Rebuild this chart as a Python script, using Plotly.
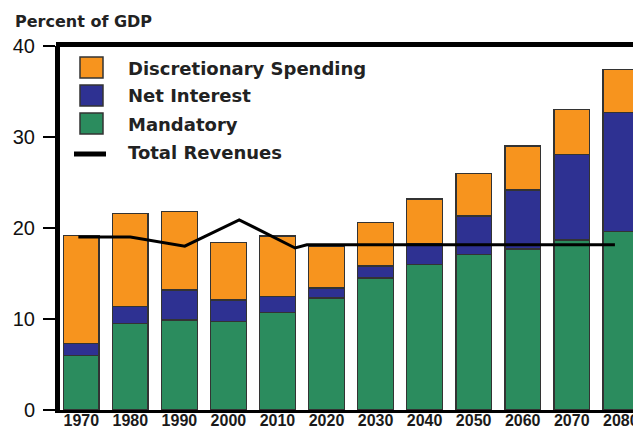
import plotly.graph_objects as go

years = [1970, 1980, 1990, 2000, 2010, 2020, 2030, 2040, 2050, 2060, 2070, 2080]
tick_labels = [str(y) for y in years]

# Stacked components (percent of GDP)
mandatory = [6.0, 9.5, 9.9, 9.7, 10.7, 12.3, 14.5, 16.0, 17.1, 17.7, 18.7, 19.6]
net_interest_top = [7.3, 11.4, 13.2, 12.1, 12.5, 13.4, 15.8, 18.3, 21.3, 24.2, 28.1, 32.7]
total_top = [19.2, 21.6, 21.8, 18.4, 19.1, 18.0, 20.6, 23.2, 26.0, 29.0, 33.0, 37.4]

net_interest = [round(n - m, 2) for n, m in zip(net_interest_top, mandatory)]
discretionary = [round(t - n, 2) for t, n in zip(total_top, net_interest_top)]

revenue_years = [1969.4, 1980.0, 1991.1, 2002.2, 2013.6, 2016.0, 2078.8]
revenues = [19.0, 19.0, 18.0, 20.9, 17.8, 18.15, 18.15]

ORANGE = "#F7941E"
BLUE = "#2E3192"
GREEN = "#2B8C5E"
OUTLINE = "#333333"

# page body has an 8px margin; size the figure so it ends at the window edge
OFF = 8
W, H = 641 - OFF, 429 - OFF
ML, MR, MT, MB = 60 - OFF, 0, 46 - OFF, 19
PW = W - ML - MR
PH = H - MT - MB

fig = go.Figure()
bar_kw = dict(width=7.3, marker_line_color=OUTLINE, marker_line_width=1.5)
fig.add_trace(go.Bar(x=years, y=mandatory, marker_color=GREEN, name="Mandatory", **bar_kw))
fig.add_trace(go.Bar(x=years, y=net_interest, marker_color=BLUE, name="Net Interest", **bar_kw))
fig.add_trace(go.Bar(x=years, y=discretionary, marker_color=ORANGE, name="Discretionary Spending", **bar_kw))
fig.add_trace(go.Scatter(x=revenue_years, y=revenues, mode="lines",
                         line=dict(color="black", width=3), name="Total Revenues"))


def px_x(px):
    # page pixel -> paper x
    return (px - OFF - ML) / PW


def px_y(py):
    # page pixel -> paper y
    return (H - MB - (py - OFF)) / PH


shapes = []
# top border
shapes.append(dict(type="line", xref="paper", yref="paper", x0=px_x(56), x1=1.0,
                   y0=px_y(44.5), y1=px_y(44.5), line=dict(color="black", width=5)))
# legend swatches
for (top, color) in [(57, ORANGE), (85, BLUE), (113, GREEN)]:
    shapes.append(dict(type="rect", xref="paper", yref="paper",
                       x0=px_x(80), x1=px_x(103), y0=px_y(top + 21), y1=px_y(top),
                       fillcolor=color, line=dict(color=OUTLINE, width=1.5)))
shapes.append(dict(type="line", xref="paper", yref="paper", x0=px_x(74), x1=px_x(106),
                   y0=px_y(154), y1=px_y(154), line=dict(color="black", width=5)))

legend_font = dict(family="DejaVu Sans", size=18, color="#222222")
annotations = []
for text, cy in [("<b>Discretionary Spending</b>", 68), ("<b>Net Interest</b>", 96),
                 ("<b>Mandatory</b>", 124), ("<b>Total Revenues</b>", 152)]:
    annotations.append(dict(text=text, xref="paper", yref="paper", x=px_x(125.5), y=px_y(cy),
                            xanchor="left", yanchor="middle", showarrow=False, font=legend_font))
annotations.append(dict(text="<b>Percent of GDP</b>", xref="paper", yref="paper",
                        x=px_x(12.5), y=px_y(21), xanchor="left", yanchor="middle",
                        showarrow=False, font=dict(family="DejaVu Sans", size=16, color="#222222")))

fig.update_layout(
    width=W, height=H,
    margin=dict(l=ML, r=MR, t=MT, b=MB, autoexpand=False),
    barmode="stack",
    showlegend=False,
    plot_bgcolor="white",
    paper_bgcolor="white",
    shapes=shapes,
    annotations=annotations,
    xaxis=dict(range=[1965.66, 2084.12], tickvals=years, ticktext=tick_labels,
               showline=True, linecolor="black", linewidth=3, ticks="",
               showgrid=False, zeroline=False, automargin=False,
               ticklabelstandoff=-6,
               tickfont=dict(family="Liberation Sans, Arial", size=16, color="#1a1a1a",
                             weight="bold")),
    yaxis=dict(range=[0, 40], tickvals=[0, 10, 20, 30, 40],
               showline=True, linecolor="black", linewidth=5,
               ticks="outside", ticklen=12, tickwidth=2, tickcolor="black",
               showgrid=False, zeroline=False, automargin=False,
               ticklabelstandoff=4,
               tickfont=dict(family="Liberation Sans, Arial", size=20, color="#111111"),
               tickprefix="<b>", ticksuffix="</b>"),
)

fig.write_html("out.html")
